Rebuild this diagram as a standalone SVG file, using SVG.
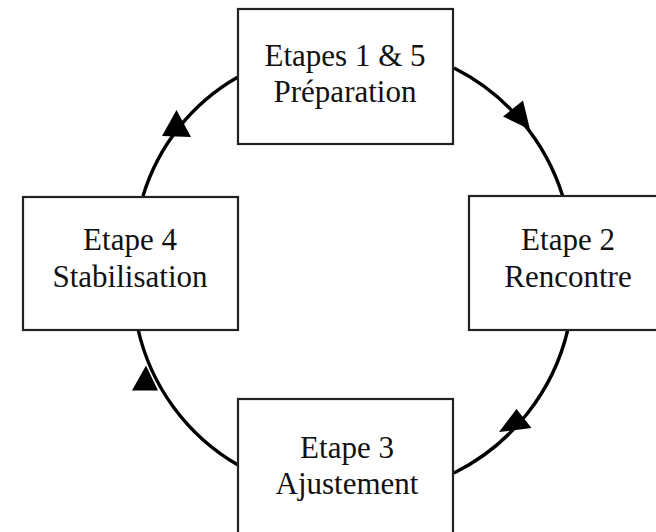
<svg xmlns="http://www.w3.org/2000/svg" width="656" height="532" viewBox="0 0 656 532">
<style>
.box{fill:#fff;stroke:#222;stroke-width:2.2}
.lbl{font-family:"Liberation Serif","Times New Roman",serif;font-size:31px;fill:#111;text-anchor:middle}
.arc{fill:none;stroke:#000;stroke-width:3.4}
.head{fill:#000}
</style>
<rect width="656" height="532" fill="#fff"/>
<g id="connectors">
<path class="arc" d="M143,196 A205,205 0 0 1 238,77"/>
<path class="arc" d="M454,68 A215,215 0 0 1 563,197"/>
<path class="arc" d="M568,329 A215,215 0 0 1 454,473"/>
<path class="arc" d="M238,465 A210,210 0 0 1 138,329"/>
<polygon class="head" points="176.5,110 162,136 191,137"/>
<polygon class="head" points="530,129.5 503,116.5 523,100.5"/>
<polygon class="head" points="499,432 516.5,409 531.5,428"/>
<polygon class="head" points="146,365.5 132,390.5 158,390.5"/>
</g>
<g id="node1">
<rect class="box" x="238" y="9" width="215" height="135"/>
<text class="lbl" x="345" y="66">Etapes 1 &amp; 5</text>
<text class="lbl" x="345" y="102">Préparation</text>
</g>
<g id="node2">
<rect class="box" x="469" y="196" width="200" height="134"/>
<text class="lbl" x="568" y="250">Etape 2</text>
<text class="lbl" x="568" y="287">Rencontre</text>
</g>
<g id="node3">
<rect class="box" x="238" y="399" width="215" height="150"/>
<text class="lbl" x="347" y="458">Etape 3</text>
<text class="lbl" x="347" y="494">Ajustement</text>
</g>
<g id="node4">
<rect class="box" x="23" y="197" width="215" height="133"/>
<text class="lbl" x="130" y="250">Etape 4</text>
<text class="lbl" x="130" y="287">Stabilisation</text>
</g>
</svg>
